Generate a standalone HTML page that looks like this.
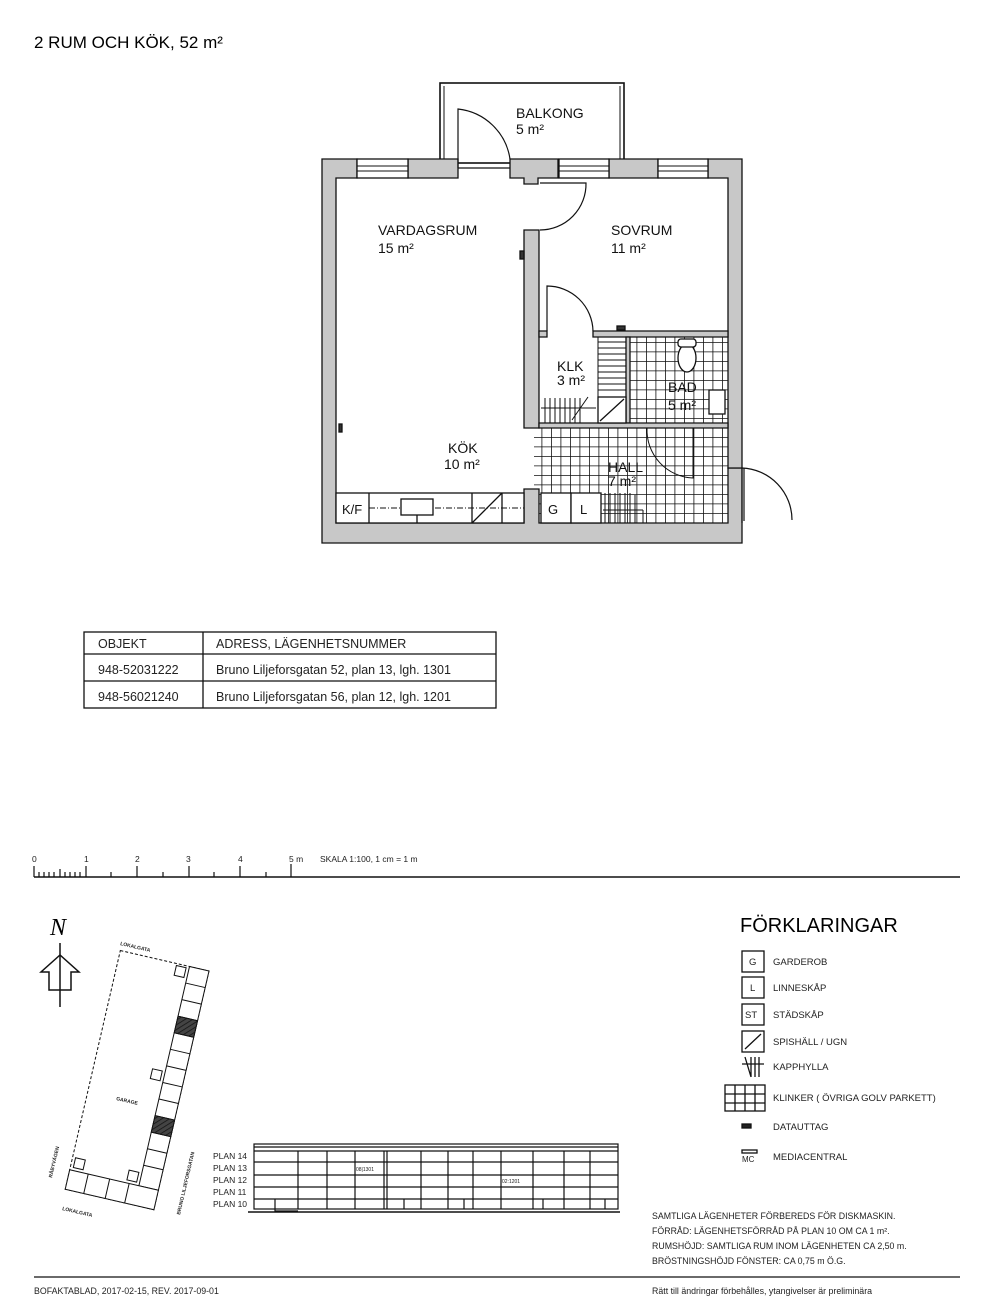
<!DOCTYPE html>
<html><head><meta charset="utf-8"><style>
html,body{margin:0;padding:0;background:#fff;}
body{width:1000px;height:1308px;position:relative;overflow:hidden;font-family:"Liberation Sans",sans-serif;color:#111;}
</style></head><body>
<svg width="1000" height="1308" viewBox="0 0 1000 1308" xmlns="http://www.w3.org/2000/svg" font-family="Liberation Sans, sans-serif">
<defs>
<pattern id="tile" x="0" y="0" width="9.5" height="9.5" patternUnits="userSpaceOnUse">
<rect width="9.5" height="9.5" fill="#fff"/><path d="M0 0H9.5M0 0V9.5" stroke="#111" stroke-width="1.6"/></pattern>
<pattern id="hatch" width="4" height="4" patternUnits="userSpaceOnUse" patternTransform="rotate(45)">
<rect width="4" height="4" fill="#444"/><path d="M0 0V4" stroke="#111" stroke-width="1.5"/></pattern>
</defs>
<text x="34" y="48" font-size="17">2 RUM OCH KÖK, 52 m²</text>

<g stroke="#111" stroke-width="1.3">
<rect x="440" y="83" width="184" height="80" fill="#fff" stroke-width="1.6"/>
<line x1="444" y1="86" x2="444" y2="159" stroke-width="1"/>
<line x1="620" y1="86" x2="620" y2="159" stroke-width="1"/>
<rect x="630" y="337" width="98" height="86" fill="url(#tile)" stroke="none"/>
<rect x="534" y="428" width="194" height="95" fill="url(#tile)" stroke="none"/>
<path fill="#c8c8c8" d="M322 159H357V178H336V523H524V489H539V523H728V468H742V543H322Z"/>
<path fill="#c8c8c8" d="M408 159H458V178H408Z"/>
<path fill="#c8c8c8" d="M510 159H558V178H538V184H524V178H510Z"/>
<path fill="#c8c8c8" d="M609 159H658V178H609Z"/>
<path fill="#c8c8c8" d="M708 159H742V468H728V178H708Z"/>
<g fill="#fff">
<rect x="357" y="159" width="51" height="19"/><rect x="559" y="159" width="50" height="19"/><rect x="658" y="159" width="50" height="19"/>
</g>
<path d="M357 166H408M357 171H408M559 166H609M559 171H609M658 166H708M658 171H708" stroke-width="0.9"/>
<line x1="458" y1="168" x2="510" y2="168"/>
<path fill="#c8c8c8" d="M524 230H539V428H524Z"/>
<path fill="#c8c8c8" d="M593 331H728V337H593Z"/>
<path fill="#c8c8c8" d="M539 331H547V337H539Z"/>
<path fill="#c8c8c8" d="M626 337H630V423H626Z"/>
<path fill="#c8c8c8" d="M539 423H728V428H539Z"/>
<g fill="none" stroke-width="1.2">
<path d="M458 168V109A59 59 0 0 1 510 159"/>
<path d="M540 183H586A46 46 0 0 1 540 230"/>
<path d="M547 331V286A46 46 0 0 1 593 331"/>
<path d="M742 523V468A52 52 0 0 1 792 520"/>
<path d="M744 468V521"/>
<path d="M647 428A48 48 0 0 0 693 478V428" stroke-width="1"/>
</g>
<rect x="520" y="251" width="4" height="8" fill="#333"/>
<rect x="339" y="424" width="3" height="8" fill="#333"/>
<rect x="617" y="326" width="8" height="4" fill="#333"/>
<rect x="336" y="493" width="188" height="30" fill="#fff"/>
<line x1="369" y1="493" x2="369" y2="523"/>
<path d="M369 508H524" stroke-dasharray="6 2 1 2" stroke-width="1"/>
<rect x="401" y="499" width="32" height="16" fill="#fff"/>
<line x1="417" y1="515" x2="417" y2="523"/>
<line x1="472" y1="493" x2="472" y2="523"/>
<line x1="472" y1="523" x2="502" y2="493"/>
<line x1="502" y1="493" x2="502" y2="523"/>
<rect x="541" y="493" width="30" height="30" fill="#fff"/>
<rect x="571" y="493" width="30" height="30" fill="#fff"/>
<path d="M605 493V523M610 493V523M615 493V523M620 493V523M625 493V523M630 493V523M603 510H643M643 510V523M635 495V523" stroke-width="1"/>
<path d="M598 342H626M598 348H626M598 354H626M598 360H626M598 366H626M598 372H626M598 378H626M598 384H626M598 390H626M598 337V397" stroke-width="1"/>
<rect x="598" y="397" width="28" height="26" fill="#fff"/>
<line x1="600" y1="421" x2="624" y2="399"/>
<path d="M541 408H596M545 398V423M550 398V423M555 398V423M560 398V423M565 398V423M570 398V423M575 398V423M580 398V423M572 420L588 397" stroke-width="1"/>
<ellipse cx="687" cy="358" rx="9" ry="14" fill="#fff"/>
<rect x="678" y="339" width="18" height="8" rx="3" fill="#fff"/>
<rect x="709" y="390" width="16" height="24" fill="#fff"/>
</g>
<g font-size="14" fill="#111">
<text x="516" y="118">BALKONG</text><text x="516" y="134">5 m²</text>
<text x="378" y="235">VARDAGSRUM</text><text x="378" y="253">15 m²</text>
<text x="611" y="235">SOVRUM</text><text x="611" y="253">11 m²</text>
<text x="557" y="371">KLK</text><text x="557" y="385">3 m²</text>
<text x="668" y="392">BAD</text><text x="668" y="410">5 m²</text>
<text x="448" y="453">KÖK</text><text x="444" y="469">10 m²</text>
<text x="608" y="472">HALL</text><text x="608" y="486">7 m²</text>
<text x="342" y="514" font-size="13">K/F</text>
<text x="548" y="514" font-size="13">G</text><text x="580" y="514" font-size="13">L</text>
</g>

<g stroke="#111" stroke-width="1.3" fill="none">
<rect x="84" y="632" width="412" height="76"/>
<line x1="84" y1="654" x2="496" y2="654"/><line x1="84" y1="681" x2="496" y2="681"/>
<line x1="203" y1="632" x2="203" y2="708"/>
</g>
<g font-size="12.5" fill="#222">
<text x="98" y="648">OBJEKT</text><text x="216" y="648">ADRESS, LÄGENHETSNUMMER</text>
<text x="98" y="674">948-52031222</text><text x="216" y="674">Bruno Liljeforsgatan 52, plan 13, lgh. 1301</text>
<text x="98" y="701">948-56021240</text><text x="216" y="701">Bruno Liljeforsgatan 56, plan 12, lgh. 1201</text>
</g>

<g stroke="#111" stroke-width="1.2">
<line x1="34" y1="877" x2="960" y2="877" stroke-width="1.6"/>
<path d="M34 866V877M39 872V877M44 872V877M49 872V877M54 872V877M60 869V877M65 872V877M70 872V877M75 872V877M80 872V877M86 866V877M111 872V877M137 866V877M163 872V877M189 866V877M214 872V877M240 866V877M266 872V877M291 864V877"/>
</g>
<g font-size="8.5" fill="#222">
<text x="32" y="862">0</text><text x="84" y="862">1</text><text x="135" y="862">2</text><text x="186" y="862">3</text><text x="238" y="862">4</text><text x="289" y="862">5 m</text>
<text x="320" y="862">SKALA 1:100, 1 cm = 1 m</text>
</g>

<text x="50" y="935" font-family="Liberation Serif, serif" font-style="italic" font-size="24">N</text>
<g stroke="#111" stroke-width="1.5" fill="#fff">
<path d="M60 955L41 972H49V990H71V972H79Z"/>
<line x1="60" y1="943" x2="60" y2="1007"/>
</g>

<g transform="translate(209,971) rotate(13)" stroke="#111" stroke-width="1" fill="none">
<rect x="-91" y="0" width="91" height="245" stroke-dasharray="3 2"/>
<g fill="#fff">
<rect x="-20" y="0" width="20" height="225"/>
<path d="M-20 17H0M-20 34H0M-20 51H0M-20 68H0M-20 85H0M-20 102H0M-20 119H0M-20 136H0M-20 153H0M-20 170H0M-20 187H0M-20 204H0"/>
<rect x="-91" y="225" width="91" height="20"/>
<path d="M-72 225V245M-50 225V245M-30 225V245"/>
</g>
<rect x="-20" y="51" width="20" height="17" fill="url(#hatch)"/>
<rect x="-20" y="153" width="20" height="17" fill="url(#hatch)"/>
<rect x="-33" y="2" width="10" height="10" fill="#fff"/>
<rect x="-33" y="108" width="10" height="10" fill="#fff"/>
<rect x="-33" y="212" width="10" height="10" fill="#fff"/>
<rect x="-88" y="212" width="10" height="10" fill="#fff"/>
</g>
<g font-size="5" fill="#222" font-weight="bold">
<text x="120" y="945" transform="rotate(13 120 945)">LOKALGATA</text>
<text x="116" y="1100" transform="rotate(13 116 1100)">GARAGE</text>
<text x="62" y="1210" transform="rotate(13 62 1210)">LOKALGATA</text>
<text x="52" y="1178" transform="rotate(-77 52 1178)">RÅBYVÄGEN</text>
<text x="180" y="1215" transform="rotate(-77 180 1215)">BRUNO LILJEFORSGATAN</text>
</g>

<g stroke="#111" stroke-width="1.2" fill="none">
<rect x="254" y="1144" width="364" height="65"/>
<path d="M254 1147H618M254 1151H618M254 1162H618M254 1175H618M254 1187H618M254 1199H618"/>
<path d="M298 1151V1209M327 1151V1209M355 1151V1209M384 1151V1209M387 1151V1209M421 1151V1209M448 1151V1209M473 1151V1209M501 1151V1209M533 1151V1209M564 1151V1209M590 1151V1209"/>
<path d="M275 1199V1211H298M404 1199V1209M464 1199V1209M543 1199V1209M605 1199V1209"/>
<line x1="248" y1="1212" x2="620" y2="1212" stroke-width="1.6"/>
</g>
<g font-size="8.5" fill="#222">
<text x="213" y="1159">PLAN 14</text><text x="213" y="1171">PLAN 13</text><text x="213" y="1183">PLAN 12</text><text x="213" y="1195">PLAN 11</text><text x="213" y="1207">PLAN 10</text>
<text x="356" y="1171" font-size="5">08|1301</text><text x="502" y="1183" font-size="5">02:1201</text>
</g>

<text x="740" y="932" font-size="20">FÖRKLARINGAR</text>
<g stroke="#111" stroke-width="1.3" fill="#fff">
<rect x="742" y="951" width="22" height="21"/><rect x="742" y="977" width="22" height="21"/>
<rect x="742" y="1004" width="22" height="21"/><rect x="742" y="1031" width="22" height="21"/>
<path d="M745 1049L761 1034" />
<path d="M751 1057V1077M755 1057V1077M759 1057V1077M742 1064H764M745 1057L751 1077"/>
<rect x="725" y="1085" width="40" height="26"/>
<path d="M735 1085V1111M745 1085V1111M755 1085V1111M725 1094H765M725 1103H765"/>
<rect x="742" y="1124" width="9" height="4" fill="#222"/>
<rect x="742" y="1150" width="15" height="3"/>
</g>
<g font-size="9.5" fill="#222">
<text x="749" y="965">G</text><text x="750" y="991">L</text><text x="745" y="1018">ST</text>
<text x="742" y="1162" font-size="8">MC</text>
<text x="773" y="965">GARDEROB</text><text x="773" y="991">LINNESKÅP</text><text x="773" y="1018">STÄDSKÅP</text>
<text x="773" y="1045">SPISHÄLL / UGN</text><text x="773" y="1070">KAPPHYLLA</text>
<text x="773" y="1101">KLINKER  ( ÖVRIGA GOLV PARKETT)</text>
<text x="773" y="1130">DATAUTTAG</text><text x="773" y="1160">MEDIACENTRAL</text>
</g>
<g font-size="8.8" fill="#222">
<text x="652" y="1219">SAMTLIGA LÄGENHETER FÖRBEREDS FÖR DISKMASKIN.</text>
<text x="652" y="1234">FÖRRÅD: LÄGENHETSFÖRRÅD PÅ PLAN 10 OM CA 1 m².</text>
<text x="652" y="1249">RUMSHÖJD: SAMTLIGA RUM INOM LÄGENHETEN CA 2,50 m.</text>
<text x="652" y="1264">BRÖSTNINGSHÖJD FÖNSTER: CA 0,75 m Ö.G.</text>
<text x="652" y="1294">Rätt till ändringar förbehålles, ytangivelser är preliminära</text>
<text x="34" y="1294">BOFAKTABLAD, 2017-02-15, REV. 2017-09-01</text>
</g>
<line x1="34" y1="1277" x2="960" y2="1277" stroke="#111" stroke-width="1.3"/>
</svg>
</body></html>
